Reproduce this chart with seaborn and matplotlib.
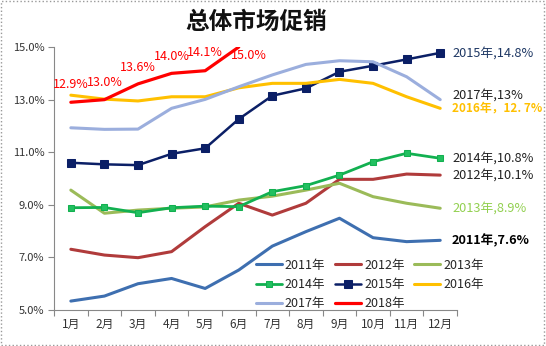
import matplotlib
matplotlib.use("Agg")
import matplotlib.pyplot as plt
from matplotlib.patches import Rectangle
from matplotlib.ticker import FixedLocator, FormatStrFormatter
import seaborn as sns

months = ["1月", "2月", "3月", "4月", "5月", "6月", "7月", "8月", "9月", "10月", "11月", "12月"]
years = ["2011年", "2012年", "2013年", "2014年", "2015年", "2016年", "2017年", "2018年"]

v2011 = [5.34, 5.53, 6.00, 6.20, 5.82, 6.52, 7.43, 7.98, 8.49, 7.75, 7.60, 7.65]
v2012 = [7.31, 7.09, 6.99, 7.22, 8.17, 9.06, 8.61, 9.06, 9.97, 9.97, 10.17, 10.13]
v2013 = [9.56, 8.68, 8.80, 8.87, 8.92, 9.18, 9.33, 9.56, 9.82, 9.31, 9.06, 8.87]
v2014 = [8.89, 8.90, 8.70, 8.89, 8.95, 8.93, 9.50, 9.73, 10.13, 10.64, 10.96, 10.77]
v2015 = [10.60, 10.54, 10.51, 10.94, 11.15, 12.26, 13.15, 13.43, 14.06, 14.29, 14.53, 14.78]
v2016 = [13.17, 13.02, 12.95, 13.11, 13.11, 13.45, 13.62, 13.62, 13.77, 13.62, 13.11, 12.67]
v2017 = [11.93, 11.87, 11.88, 12.67, 13.01, 13.49, 13.94, 14.34, 14.48, 14.44, 13.87, 13.00]
v2018 = [12.9, 13.0, 13.6, 14.0, 14.1, 15.0]

end_labels = ["2011年,7.6%", "2012年,10.1%", "2013年,8.9%", "2014年,10.8%",
              "2015年,14.8%", "2016年，12. 7%", "2017年,13%", None]
y_ticks = [5.0, 7.0, 9.0, 11.0, 13.0, 15.0]
title = "总体市场促销"

series = [v2011, v2012, v2013, v2014, v2015, v2016, v2017, v2018]
colors = ["#3E6FB0", "#B03B3B", "#9BBB59", "#12B050", "#0B1F66", "#FFC000", "#9BAEDD", "#FF0000"]
markers = [None, None, None, "s", "s", None, None, None]
msizes = [0, 0, 0, 5, 6, 0, 0, 0]
lws = [2.2, 2.2, 2.2, 2.0, 1.8, 2.2, 2.2, 2.3]
lab_colors = ["#000000", "#222222", "#92D050", "#222222", "#1F3864", "#FFC000", "#222222", None]
lab_weights = ["bold", "normal", "normal", "normal", "normal", "bold", "normal", None]
lab_sizes = [9.2, 9.2, 9.2, 9.2, 9.2, 8.5, 9.2, 9.2]
lab_dy = [0, 0, 0, 0, 0, 0, 3, 0]

sns.set_theme(style="white")
plt.rcParams["font.family"] = ["Noto Sans CJK SC", "DejaVu Sans"]
plt.rcParams["axes.unicode_minus"] = False

fig = plt.figure(figsize=(5.46, 3.46), dpi=100)
ax = fig.add_axes([0.099, 0.104, 0.738, 0.760])

for i, (yr, vals) in enumerate(zip(years, series)):
    kw = {}
    if markers[i]:
        kw = dict(marker=markers[i], markersize=msizes[i], markeredgecolor=colors[i],
                  markerfacecolor=colors[i] if i == 4 else "#22C060")
    sns.lineplot(x=months[:len(vals)], y=vals, ax=ax, color=colors[i], lw=lws[i],
                 label=yr, sort=False, zorder=3 + i, **kw)

ax.set_xlim(-0.5, 11.5)
ax.set_ylim(5.0, 15.0)
ax.yaxis.set_major_locator(FixedLocator(y_ticks))
ax.yaxis.set_major_formatter(FormatStrFormatter("%.1f%%"))
ax.set_xlabel("")
ax.set_ylabel("")
ax.xaxis.set_minor_locator(FixedLocator([x - 0.5 for x in range(13)]))
ax.tick_params(axis="x", which="major", length=0, labelsize=8.5, colors="#333333", pad=6)
ax.tick_params(axis="x", which="minor", length=4, width=0.8, color="#888888", direction="out", bottom=True)
ax.tick_params(axis="y", which="major", length=4, width=0.8, color="#888888", direction="out",
               left=True, labelsize=8, labelcolor="#333333", pad=3)
for s in ["top", "right"]:
    ax.spines[s].set_visible(False)
for s in ["left", "bottom"]:
    ax.spines[s].set_color("#888888")
    ax.spines[s].set_linewidth(0.8)

# end-of-line labels
for i, vals in enumerate(series):
    if end_labels[i] is None:
        continue
    ax.annotate(end_labels[i], xy=(len(vals) - 1, vals[-1]), xytext=(8.5, lab_dy[i]),
                textcoords="offset points", ha="left", va="center", fontsize=lab_sizes[i],
                color=lab_colors[i], fontweight=lab_weights[i], annotation_clip=False)

# 2018 data labels
offs = [(0, 13), (0, 12), (0, 11.5), (0, 12), (0, 13), (7, -6)]
for j, v in enumerate(v2018):
    ax.annotate(f"{v:.1f}%", xy=(j, v), xytext=offs[j], textcoords="offset points",
                ha="center", va="center", fontsize=9, color="#FF0000", annotation_clip=False)

h, l = ax.get_legend_handles_labels()
order = [0, 3, 6, 1, 4, 7, 2, 5]
ax.legend([h[k] for k in order], [l[k] for k in order], ncol=3, frameon=False,
          loc="upper left", bbox_to_anchor=(0.468, 0.252), bbox_transform=fig.transFigure,
          fontsize=9, handlelength=2.1, handletextpad=0.25, columnspacing=0.75,
          labelspacing=0.5, borderpad=0, borderaxespad=0)

fig.text(0.469, 0.937, title, ha="center", va="center", fontsize=17, fontweight="bold", color="#111111")

fig.patches.append(Rectangle((0.002, 0.003), 0.995, 0.993, transform=fig.transFigure, fill=False,
                             edgecolor="#999999", linestyle=":", linewidth=1.0))

fig.savefig("out.png", dpi=100)
